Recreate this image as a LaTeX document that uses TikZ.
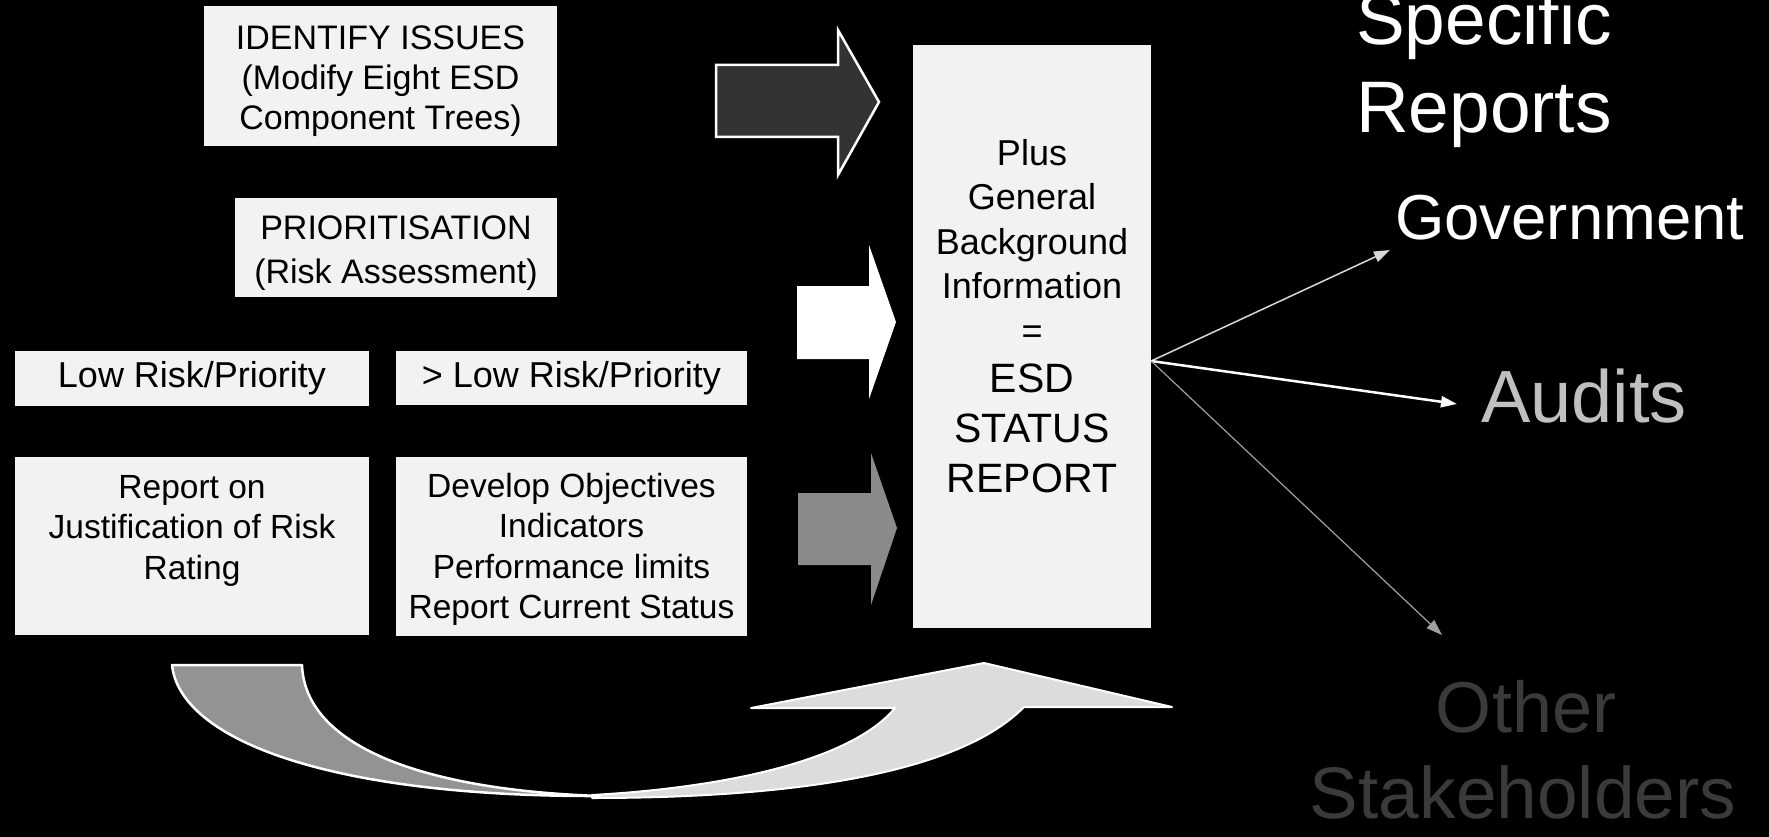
\documentclass[tikz,border=0pt]{standalone}
\usepackage{fontspec}
\setmainfont{Liberation Sans}
\usetikzlibrary{arrows.meta}
\definecolor{boxfill}{HTML}{F2F2F2}
\definecolor{darkfill}{HTML}{333333}
\definecolor{midgray}{HTML}{8A8A8A}
\definecolor{curvegray}{HTML}{939393}
\definecolor{curvelight}{HTML}{DCDCDC}
\definecolor{auditgray}{HTML}{C0C0C0}
\definecolor{othergray}{HTML}{3A3A3A}
\definecolor{govline}{HTML}{D8D8D8}
\definecolor{othline}{HTML}{A0A0A0}
\newcommand{\firstlinerule}[1]{\rule{0pt}{#1}}
\begin{document}
\begin{tikzpicture}[x=1pt,y=-1pt,
  box/.style={fill=boxfill, inner sep=0pt, align=center, text=black},
  fontA/.style={font=\fontsize{34}{40}\selectfont},
  fontP/.style={font=\fontsize{34}{44}\selectfont},
  fontB/.style={font=\fontsize{36}{42}\selectfont},
  fontC/.style={font=\fontsize{33.5}{40.5}\selectfont},
  rtext/.style={inner sep=0pt, text=white},
  conn/.style={-{Triangle[length=16pt,width=11pt]}},
  blockarrow/.style={line join=miter}
]
\fill[black] (0,0) rectangle (1769,837);
\useasboundingbox (0,0) rectangle (1769,837);
\clip (0,0) rectangle (1769,837);

% left boxes
\node[box, fontA, minimum width=353pt, minimum height=140pt] (ident) at (380.5,76)
  {\firstlinerule{33.3pt}IDENTIFY ISSUES\\(Modify Eight ESD\\Component Trees)};
\node[box, fontP, minimum width=322pt, minimum height=99pt] (prio) at (396,247.5)
  {\firstlinerule{36pt}PRIORITISATION\\(Risk Assessment)};
\node[box, fontB, minimum width=354pt, minimum height=55pt] (low) at (192,378.5)
  {Low Risk/Priority};
\node[box, fontB, minimum width=351pt, minimum height=54pt] (gtlow) at (571.5,378)
  {> Low Risk/Priority};
\node[box, fontC, minimum width=354pt, minimum height=178pt] (report) at (192,546)
  {\firstlinerule{26pt}Report on\\Justification of Risk\\Rating\\\mbox{}};
\node[box, fontC, minimum width=351pt, minimum height=179pt] (develop) at (571.5,546.5)
  {\firstlinerule{30pt}Develop Objectives\\Indicators\\Performance limits\\Report Current Status};

% ESD status box
\node[box, minimum width=238pt, minimum height=583pt] (esd) at (1032,336.5) {};
\node[anchor=north, inner sep=0pt, align=center, font=\fontsize{36}{44.5}\selectfont] (esdtop) at (1032,139)
  {Plus\\General\\Background\\Information\\=};
\node[anchor=north, inner sep=0pt, align=center, font=\fontsize{41}{50}\selectfont] (esdbot) at (1032,363.5)
  {ESD\\STATUS\\REPORT};

% block arrows
\draw[blockarrow, white, line width=2.5pt, fill=darkfill]
  (716,65) -- (838,65) -- (838,30) -- (879,102) -- (838,175) -- (838,137) -- (716,137) -- cycle;
\fill[white]
  (797,286) -- (869,286) -- (869,245) -- (896,322) -- (869,399) -- (869,359) -- (797,359) -- cycle;
\fill[midgray]
  (798,493) -- (871,493) -- (871,453) -- (897,528) -- (871,605) -- (871,565) -- (798,565) -- cycle;

% curved arrow
\draw[white, line width=2pt, fill=curvelight, line join=round]
  (592,795) .. controls (720,788) and (850,762) .. (895,708) -- (751,708) -- (984,663) -- (1172,707) -- (1024,707)
  .. controls (960,772) and (800,798) .. (592,798) -- cycle;
\draw[white, line width=2.5pt, fill=curvegray, line join=round]
  (172,665) -- (302,665) .. controls (305,745) and (420,790) .. (600,796)
  .. controls (330,797) and (180,740) .. (172,665) -- cycle;

% right side texts
\node[rtext, anchor=base west, font=\fontsize{73}{80}\selectfont] (spec) at (1356,45) {Specific};
\node[rtext, anchor=base west, font=\fontsize{73}{80}\selectfont] (reports) at (1356,133) {Reports};
\node[rtext, anchor=base west, font=\fontsize{63.5}{70}\selectfont] (gov) at (1395,240) {Government};
\node[rtext, anchor=base west, text=auditgray, font=\fontsize{74}{80}\selectfont] (audits) at (1481,422) {Audits};
\node[rtext, anchor=base, text=othergray, font=\fontsize{72}{80}\selectfont] (other) at (1526,732) {Other};
\node[rtext, anchor=base, text=othergray, font=\fontsize{73}{80}\selectfont] (stake) at (1523,818) {Stakeholders};

% connectors
\coordinate (hub) at ([yshift=-24.5pt]esd.east);
\coordinate (govtip) at (1390,250);
\coordinate (audtip) at (1457,404);
\coordinate (othtip) at (1442,635);
\draw[conn, govline, line width=1.5pt] (hub) -- (govtip);
\draw[conn, white, line width=2.5pt] (hub) -- (audtip);
\draw[conn, othline, line width=1.2pt] (hub) -- (othtip);
\end{tikzpicture}
\end{document}
